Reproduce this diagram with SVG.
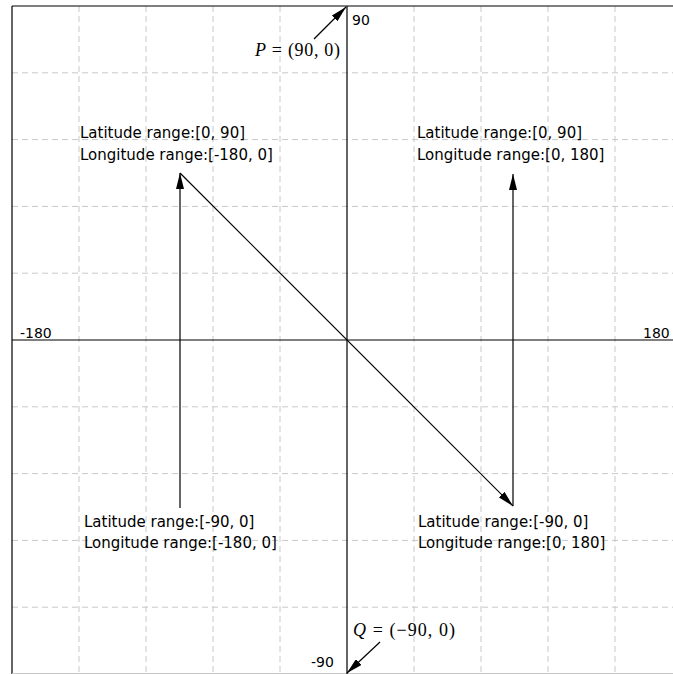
<svg xmlns="http://www.w3.org/2000/svg" width="673" height="674" viewBox="0 0 673 674">
<defs>
<style>
.grid{stroke:#c8c8c8;stroke-width:1;stroke-dasharray:6,4;fill:none}
.axis{stroke:#000;stroke-width:1.2;fill:none}
.conn{stroke:#000;stroke-width:1.2;fill:none}
.lbl{font-family:"DejaVu Sans",sans-serif;font-size:15px;fill:#000}
.tick{font-family:"DejaVu Sans",sans-serif;font-size:14px;fill:#000}
.math{font-family:"Liberation Serif","DejaVu Serif",serif;font-size:18px;fill:#000}
</style>
<marker id="ah" viewBox="0 0 16 8" refX="16" refY="4" markerWidth="16" markerHeight="8" markerUnits="userSpaceOnUse" orient="auto">
<path d="M0,0 L16,4 L0,8 z" fill="#000"/>
</marker>
</defs>
<rect width="673" height="674" fill="#fff"/>
<g id="grid">
<path class="grid" d="M79,6V674M146,6V674M213,6V674M280,6V674M414,6V674M481,6V674M548,6V674M615,6V674"/>
<path class="grid" d="M12,72.8H673M12,139.6H673M12,206.4H673M12,273.2H673M12,406.8H673M12,473.6H673M12,540.4H673M12,607.2H673"/>
</g>
<g id="frame">
<path class="axis" d="M12,6H673M12,6V674"/>
<path d="M12,673.5H673" stroke="#c8c8c8" stroke-width="1"/>
<path class="axis" d="M12,340H673M347,6V674"/>
</g>
<g id="axis-labels">
<text class="tick" x="352" y="25">90</text>
<text class="tick" x="311" y="667">-90</text>
<text class="tick" x="20" y="338">-180</text>
<text class="tick" x="643" y="338">180</text>
</g>
<g id="P">
<text class="math" x="255" y="56" textLength="85" lengthAdjust="spacing"><tspan font-style="italic">P</tspan> = (90, 0)</text>
</g>
<g id="Q">
<text class="math" x="353" y="636" textLength="102" lengthAdjust="spacing"><tspan font-style="italic">Q</tspan> = (−90, 0)</text>
</g>
<g id="connectors">
<line class="conn" x1="314" y1="39" x2="346" y2="7" marker-end="url(#ah)"/>
<line class="conn" x1="380" y1="642" x2="347" y2="673" marker-end="url(#ah)"/>
<line class="conn" x1="180" y1="508" x2="180" y2="173" marker-end="url(#ah)"/>
<line class="conn" x1="180" y1="173" x2="513" y2="506" marker-end="url(#ah)"/>
<line class="conn" x1="513" y1="506" x2="513" y2="174" marker-end="url(#ah)"/>
</g>
<g id="label-nw">
<text class="lbl" x="80" y="138">Latitude range:[0, 90]</text>
<text class="lbl" x="80" y="160">Longitude range:[-180, 0]</text>
</g>
<g id="label-ne">
<text class="lbl" x="417" y="138">Latitude range:[0, 90]</text>
<text class="lbl" x="417" y="160">Longitude range:[0, 180]</text>
</g>
<g id="label-sw">
<text class="lbl" x="84" y="527">Latitude range:[-90, 0]</text>
<text class="lbl" x="84" y="548">Longitude range:[-180, 0]</text>
</g>
<g id="label-se">
<text class="lbl" x="418" y="527">Latitude range:[-90, 0]</text>
<text class="lbl" x="418" y="548">Longitude range:[0, 180]</text>
</g>
</svg>
